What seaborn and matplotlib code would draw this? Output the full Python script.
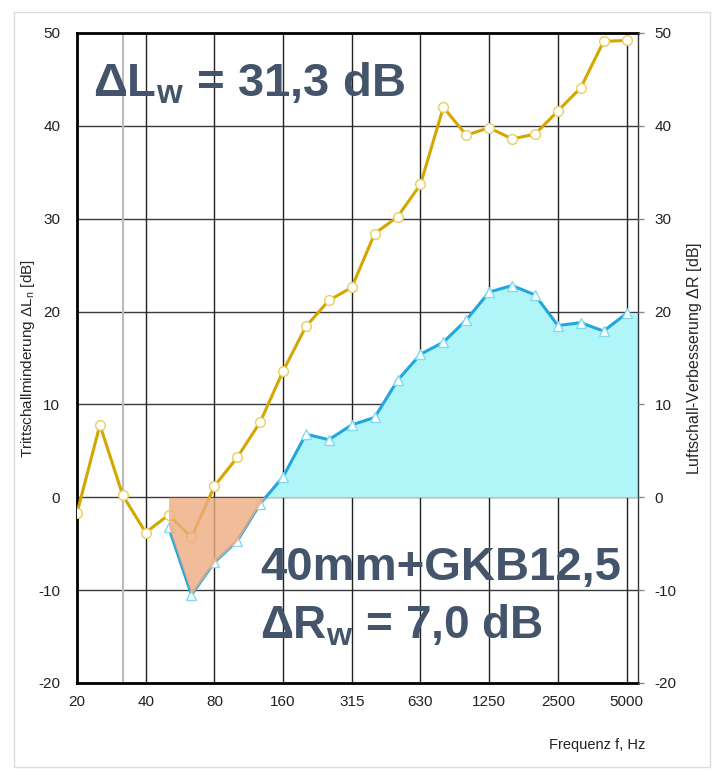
import seaborn as sns
import pandas as pd
import numpy as np
import matplotlib.pyplot as plt
from matplotlib.patches import Rectangle

#----- Data -----
bands = ["20", "25", "31.5", "40", "50", "63", "80", "100", "125", "160", "200", "250", "315",
         "400", "500", "630", "800", "1000", "1250", "1600", "2000", "2500", "3150", "4000", "5000"]
delta_L = [-1.7, 7.8, 0.2, -3.8, -1.9, -4.3, 1.2, 4.3, 8.1, 13.6, 18.4, 21.2, 22.6,
           28.4, 30.2, 33.7, 42.0, 39.0, 39.8, 38.6, 39.1, 41.6, 44.1, 49.1, 49.2]
delta_R_bands = bands[4:]
delta_R = [-3.2, -10.5, -7.0, -4.7, -0.7, 2.2, 6.8, 6.2, 7.8, 8.6, 12.6, 15.4, 16.7,
           19.1, 22.1, 22.8, 21.8, 18.5, 18.8, 17.9, 19.8]
tick_labels = ["20", "40", "80", "160", "315", "630", "1250", "2500", "5000"]

idx = {b: i for i, b in enumerate(bands)}
df_L = pd.DataFrame({"pos": range(len(bands)), "val": delta_L})
df_R = pd.DataFrame({"pos": [idx[b] for b in delta_R_bands], "val": delta_R})

#----- Style -----
sns.set_style("white")
plt.rcParams["font.family"] = ["Liberation Sans", "DejaVu Sans"]
plt.rcParams["mathtext.fontset"] = "custom"
plt.rcParams["mathtext.rm"] = "Liberation Sans"
plt.rcParams["axes.unicode_minus"] = False

yellow = "#d4a700"
blue = "#22a6df"
cyan_fill = "#b0f6f8"
orange_fill = "#eeac80"
txt_col = "#44546a"

fig = plt.figure(figsize=(7.19, 7.71), dpi=100)
ax = fig.add_axes([77/719, 1-683/771, 561/719, 650/771])
xmax = len(bands) - 0.5

# grid
for y in range(-10, 50, 10):
    ax.axhline(y, color="#3a3a3a", lw=1.0, zorder=1)
for t in tick_labels[1:]:
    ax.axvline(idx[t], color="#222222", lw=1.0, zorder=1)
ax.axvline(idx["31.5"], color="#bbbbbb", lw=1.5, zorder=1)

# cyan fill (positive part of delta R, carried to the right edge)
xf = np.append(df_R["pos"].values, xmax).astype(float)
yf = np.append(df_R["val"].values, df_R["val"].values[-1])
ax.fill_between(xf, 0, yf, where=yf >= 0, interpolate=True, color=cyan_fill, lw=0, zorder=2)

sns.lineplot(data=df_L, x="pos", y="val", ax=ax, color=yellow, lw=2.2, marker="o",
             markersize=7, markerfacecolor="white", markeredgecolor="#e8cf60",
             markeredgewidth=1.0, zorder=4)
sns.lineplot(data=df_R, x="pos", y="val", ax=ax, color=blue, lw=2.2, marker="^",
             markersize=7, markerfacecolor="white", markeredgecolor="#7fdcf0",
             markeredgewidth=1.0, zorder=4)

# orange fill (negative part), drawn on top with alpha
ax.fill_between(df_R["pos"], 0, df_R["val"], where=df_R["val"] <= 0, interpolate=True,
                color=orange_fill, alpha=0.8, lw=0, zorder=5)

ax.set_xlim(0, xmax)
ax.set_ylim(-20, 50)
ax.set_xticks([idx[t] for t in tick_labels])
ax.set_xticklabels(tick_labels, fontsize=11, color="#222222")
ax.set_yticks(range(-20, 51, 10))
ax.tick_params(axis="x", length=0, pad=9)
ax.tick_params(axis="y", length=0, pad=12, labelsize=11, labelcolor="#222222")
ax.set_xlabel("")
ax.set_ylabel("Trittschallminderung $\\Delta$L$_\\mathregular{n}$ [dB]", fontsize=11)
ax.yaxis.set_label_coords(-0.072, 0.5)

for s in ["left", "bottom", "top"]:
    ax.spines[s].set_linewidth(2.0)
    ax.spines[s].set_color("black")
ax.spines["right"].set_linewidth(1.0)
ax.spines["right"].set_color("#333333")

ax2 = ax.twinx()
ax2.set_ylim(-20, 50)
ax2.set_yticks(range(-20, 51, 10))
ax2.tick_params(axis="y", length=4, width=1, color="#888888", pad=8, labelsize=11,
                labelcolor="#222222")
ax2.set_ylabel("Luftschall-Verbesserung $\\Delta$R [dB]", fontsize=11.5)
ax2.yaxis.set_label_coords(1.084, 0.5)
for s in ax2.spines.values():
    s.set_visible(False)

# big annotations
ax.text(93/719, 1-97/771, "ΔL$_\\mathregular{w}$ = 31,3 dB", transform=fig.transFigure,
        fontsize=34, fontweight="bold", color=txt_col, zorder=6)
ax.text(260/719, 1-580/771, "40mm+GKB12,5", transform=fig.transFigure,
        fontsize=34, fontweight="bold", color=txt_col, zorder=6)
ax.text(260/719, 1-638/771, "ΔR$_\\mathregular{w}$ = 7,0 dB", transform=fig.transFigure,
        fontsize=33, fontweight="bold", color=txt_col, zorder=6)

fig.text(645/719, 1-745/771, "Frequenz f, Hz", ha="right", va="center", fontsize=10.5,
         color="#222222")

# light frame around the chart
fig.patches.append(Rectangle((14/719, 1-767/771), 696/719, 755/771, transform=fig.transFigure,
                             fill=False, edgecolor="#dddddd", lw=1.0))

fig.savefig("out.png", dpi=100)
